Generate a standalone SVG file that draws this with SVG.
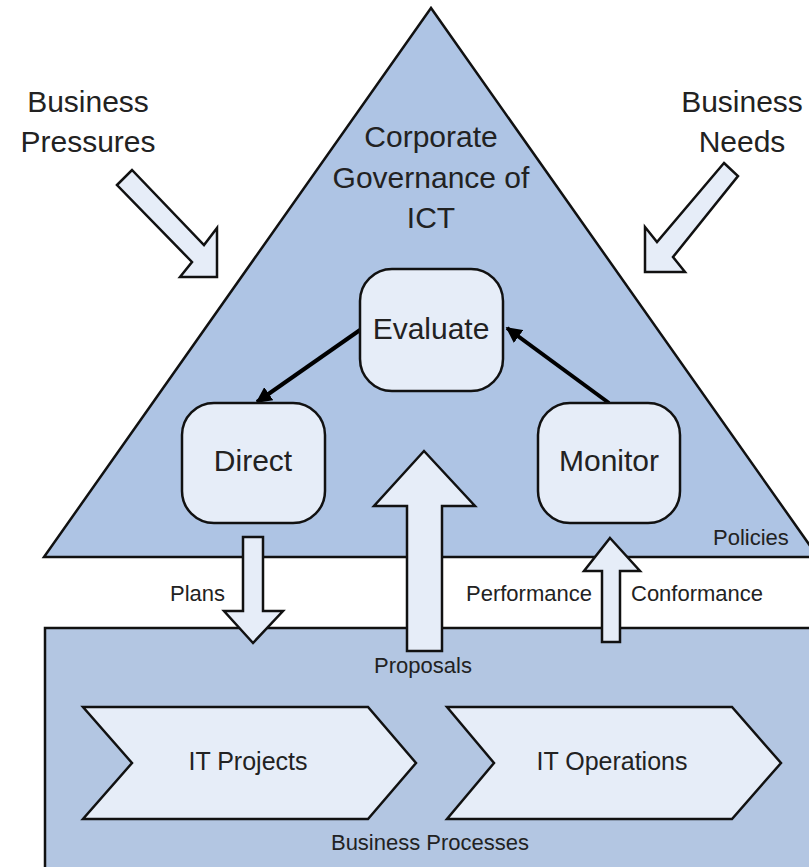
<svg xmlns="http://www.w3.org/2000/svg" width="809" height="867" viewBox="0 0 809 867">
<defs>
<style>
.bg{fill:#ffffff}
.dark{fill:#aec4e4;stroke:#111;stroke-width:2.5}
.proc{fill:#b3c6e2;stroke:#111;stroke-width:2.5}
.light{fill:#e6edf8;stroke:#111;stroke-width:2.5;stroke-linejoin:miter}
.t{font-family:"Liberation Sans",Arial,sans-serif;fill:#222}
.big{font-size:30px}
.mid{font-size:25px}
.sm{font-size:22px}
.c{text-anchor:middle}
.link{stroke:#000;stroke-width:4;fill:none}
</style>
<marker id="ah" viewBox="0 0 10 10" refX="9" refY="5" markerWidth="4" markerHeight="4" orient="auto" markerUnits="strokeWidth">
<path d="M0,0 L10,5 L0,10 z" fill="#000"/>
</marker>
</defs>
<rect class="bg" x="0" y="0" width="809" height="867"/>

<g id="governance">
<polygon class="dark" points="431,8 44,557 818,557"/>
<text class="t big c" x="431" y="147">Corporate</text>
<text class="t big c" x="431" y="188">Governance of</text>
<text class="t big c" x="431" y="228">ICT</text>
<text class="t sm" x="713" y="545">Policies</text>
</g>

<g id="business-processes">
<rect class="proc" x="45" y="628" width="780" height="250"/>
<text class="t sm c" x="430" y="850">Business Processes</text>
</g>

<g id="business-pressures">
<polygon class="light" points="117,185 132,170 204,245 217,228 217,277 180,277 192,262"/>
<text class="t big c" x="88" y="112">Business</text>
<text class="t big c" x="88" y="152">Pressures</text>
</g>

<g id="business-needs">
<polygon class="light" points="724,163 738,176 673,257 685,272 645,272 645,227 657,242"/>
<text class="t big c" x="742" y="112">Business</text>
<text class="t big c" x="742" y="152">Needs</text>
</g>

<g id="connectors">
<polygon id="plans-arrow" class="light" points="243,537 263,537 263,611 283,611 253,643 224,611 243,611"/>
<text class="t sm" x="170" y="601">Plans</text>
<polygon id="proposals-arrow" class="light" points="424,451 475,506 442,506 442,651 407,651 407,506 374,506"/>
<text class="t sm c" x="423" y="673">Proposals</text>
<polygon id="conformance-arrow" class="light" points="610,538 640,571 620,571 620,642 602,642 602,571 584,571"/>
<text class="t sm" x="466" y="601">Performance</text>
<text class="t sm" x="631" y="601">Conformance</text>
<line class="link" x1="360" y1="330" x2="257" y2="402" marker-end="url(#ah)"/>
<line class="link" x1="609" y1="403" x2="507" y2="328" marker-end="url(#ah)"/>
</g>

<g id="evaluate">
<rect class="light" x="360" y="269" width="143" height="122" rx="32" ry="32"/>
<text class="t big c" x="431" y="339">Evaluate</text>
</g>

<g id="direct">
<rect class="light" x="182" y="403" width="143" height="120" rx="32" ry="32"/>
<text class="t big c" x="253" y="471">Direct</text>
</g>

<g id="monitor">
<rect class="light" x="538" y="403" width="142" height="120" rx="32" ry="32"/>
<text class="t big c" x="609" y="471">Monitor</text>
</g>

<g id="it-projects">
<polygon class="light" points="83,707 368,707 416,763 368,819 83,819 132,763"/>
<text class="t mid c" x="248" y="770">IT Projects</text>
</g>

<g id="it-operations">
<polygon class="light" points="447,707 732,707 781,763 732,819 447,819 494,763"/>
<text class="t mid c" x="612" y="770">IT Operations</text>
</g>
</svg>
